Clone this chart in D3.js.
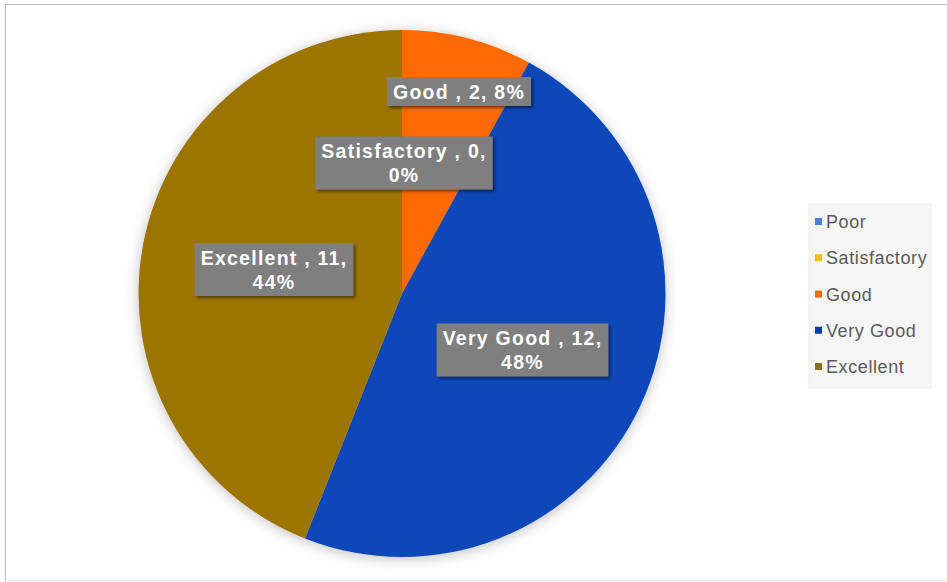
<!DOCTYPE html>
<html><head><meta charset="utf-8">
<script src="https://cdn.jsdelivr.net/npm/d3@7"></script>
<style>
html,body{margin:0;padding:0;background:#fff;}
svg{display:block;}
</style></head>
<body>
<script>
const categories = ["Poor", "Satisfactory", "Good", "Very Good", "Excellent"];
const values = [0, 0, 2, 12, 11];
const percents = ["0%", "0%", "8%", "48%", "44%"];
const colors = ["#4a86d8", "#f5c000", "#ff6a00", "#0a47b8", "#9c7400"];
const legendColors = ["#4a7fd6", "#f2c200", "#ff6a00", "#0f3fa0", "#8c7018"];

const W = 947, H = 582;
const svg = d3.select("body").append("svg").attr("width", W).attr("height", H);
const defs = svg.append("defs");
const f = defs.append("filter").attr("id","pieShadow").attr("x","-20%").attr("y","-20%").attr("width","140%").attr("height","140%");
f.append("feGaussianBlur").attr("in","SourceAlpha").attr("stdDeviation",7).attr("result","b");
f.append("feOffset").attr("in","b").attr("dx",0).attr("dy",2).attr("result","o");
f.append("feComponentTransfer").attr("in","o").attr("result","oc").append("feFuncA").attr("type","linear").attr("slope",0.25);
const m = f.append("feMerge"); m.append("feMergeNode").attr("in","oc"); m.append("feMergeNode").attr("in","SourceGraphic");

const lf = defs.append("filter").attr("id","lblShadow").attr("x","-20%").attr("y","-20%").attr("width","140%").attr("height","160%");
lf.append("feGaussianBlur").attr("in","SourceAlpha").attr("stdDeviation",1.5).attr("result","b");
lf.append("feOffset").attr("in","b").attr("dx",2).attr("dy",2).attr("result","o");
lf.append("feComponentTransfer").attr("in","o").attr("result","oc").append("feFuncA").attr("type","linear").attr("slope",0.5);
const m2 = lf.append("feMerge"); m2.append("feMergeNode").attr("in","oc"); m2.append("feMergeNode").attr("in","SourceGraphic");

// frame
svg.append("path").attr("d", `M5.5,${H} L5.5,4.5 L${W},4.5`).attr("fill","none").attr("stroke","#bdbdbd").attr("stroke-width",1.2);
svg.append("line").attr("x1",5).attr("x2",W).attr("y1",580.5).attr("y2",580.5).attr("stroke","#eeeeee");

const cx = 402, cy = 293.5, r = 263.5;
const color = d3.scaleOrdinal().domain(categories).range(colors);
const pie = d3.pie().sort(null).value(d => d.v);
const data = categories.map((c,i) => ({c, v: values[i], p: percents[i]}));
const arcs = pie(data);
const arc = d3.arc().innerRadius(0).outerRadius(r);

const g = svg.append("g").attr("transform", `translate(${cx},${cy})`);
g.append("g").attr("filter","url(#pieShadow)")
 .selectAll("path").data(arcs.filter(a => a.data.v > 0)).join("path")
 .attr("d", arc).attr("fill", d => color(d.data.c));

const labelPos = {
  "Good": [459, 91.5],
  "Satisfactory": [404, 163],
  "Excellent": [274, 269.5],
  "Very Good": [522.5, 350]
};
const lg = svg.append("g");
arcs.forEach(a => {
  const pos = labelPos[a.data.c];
  if (!pos) return;
  const full = `${a.data.c} , ${a.data.v}, ${a.data.p}`;
  const lines = a.data.c === "Good" ? [full] : [`${a.data.c} , ${a.data.v},`, a.data.p];
  const gg = lg.append("g").attr("transform", `translate(${pos[0]},${pos[1]})`);
  const lh = 24;
  const t = gg.append("text").attr("text-anchor","middle").attr("fill","#ffffff")
    .attr("font-family","Arial, 'Liberation Sans', sans-serif").attr("font-weight","bold")
    .attr("font-size",19.5).attr("letter-spacing",1.25);
  lines.forEach((ln,i) => {
    t.append("tspan").attr("x",0).attr("y", (i - (lines.length-1)/2)*lh + 7).text(ln);
  });
  const bw = d3.max(t.selectAll("tspan").nodes(), n => n.getComputedTextLength()) + 12;
  const bh = lines.length * lh + 5;
  gg.insert("rect","text").attr("x", -bw/2).attr("y", -bh/2)
    .attr("width", bw).attr("height", bh)
    .attr("fill","#7f7f7f").attr("filter","url(#lblShadow)");
});

// legend
const leg = svg.append("g");
leg.append("rect").attr("x",809).attr("y",204).attr("width",122).attr("height",184).attr("fill","#f6f6f6").attr("stroke","#eeeeee");
const ly = d3.scalePoint().domain(categories).range([222, 367]);
categories.forEach((c,i) => {
  leg.append("rect").attr("x",815).attr("y",ly(c)-4).attr("width",7).attr("height",7).attr("fill",legendColors[i]);
  leg.append("text").attr("x",826).attr("y",ly(c)+6).attr("fill","#595959")
    .attr("font-family","Arial, 'Liberation Sans', sans-serif").attr("font-size",18).attr("letter-spacing",0.6).text(c);
});
</script>
</body></html>
